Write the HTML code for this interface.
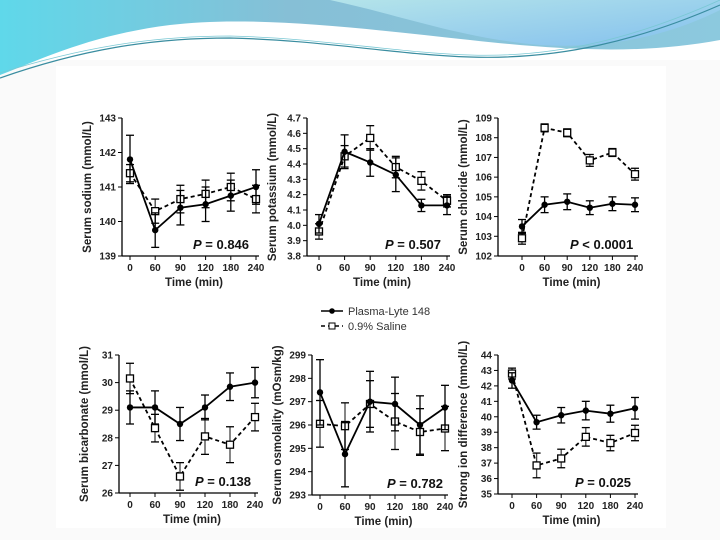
<!DOCTYPE html>
<html><head><meta charset="utf-8"><style>
body{margin:0;width:720px;height:540px;overflow:hidden;background:#fff;font-family:"Liberation Sans",sans-serif}
svg{display:block}
</style></head><body>
<svg id="s" width="720" height="540" viewBox="0 0 720 540">
<defs>
<linearGradient id="g1" x1="0" y1="0" x2="1" y2="0"><stop offset="0" stop-color="#5fd8ea"/><stop offset="0.4" stop-color="#86bfd6"/><stop offset="1" stop-color="#8cc9de"/></linearGradient>
<linearGradient id="g2" x1="0" y1="0" x2="1" y2="1"><stop offset="0" stop-color="#b4e4ea"/><stop offset="1" stop-color="#84c0ee"/></linearGradient>
</defs>
<rect x="0" y="60" width="720" height="480" fill="#fafafa"/>
<g>
<path d="M0 0 H720 V40 C640 55 560 50 470 40 C360 28 250 15 170 25 C90 35 40 60 0 75 Z" fill="url(#g1)"/>
<path d="M330 0 H720 V10 C680 30 620 50 540 45 C460 38 400 15 330 0 Z" fill="url(#g2)"/>
<path d="M0 78 C80 50 150 38 230 38 C320 40 400 55 470 57 C560 60 640 40 720 5" fill="none" stroke="#3a8da0" stroke-width="1.2"/>
<path d="M0 73 C80 48 150 36 230 36 C320 38 400 53 470 55 C560 58 640 36 720 0" fill="none" stroke="#7ac8d4" stroke-width="0.8"/>
</g>
<rect x="56" y="66" width="610" height="462" fill="#fff"/>
<g id="charts"></g>
<g font-size="11" fill="#333">
<line x1="321" y1="311" x2="343" y2="311" stroke="#000" stroke-width="1.5"/><circle cx="332" cy="311" r="2.8" fill="#000"/>
<text x="348" y="315">Plasma-Lyte 148</text>
<line x1="321" y1="326" x2="343" y2="326" stroke="#000" stroke-width="1.5" stroke-dasharray="4,3"/><rect x="329" y="323" width="6" height="6" fill="#fff" stroke="#000"/>
<text x="348" y="330">0.9% Saline</text>
</g>
</svg>
<script>
const categories=["0","60","90","120","180","240"];
const naPL=[141.8,139.75,140.4,140.5,140.75,141.0], naPLe=[0.7,0.5,0.5,0.5,0.45,0.5];
const naSA=[141.4,140.3,140.65,140.8,141.0,140.65], naSAe=[0.25,0.35,0.4,0.4,0.4,0.4];
const kPL=[4.01,4.48,4.41,4.33,4.13,4.13], kPLe=[0.06,0.11,0.09,0.11,0.04,0.06];
const kSA=[3.96,4.45,4.57,4.38,4.29,4.16], kSAe=[0.05,0.07,0.08,0.07,0.06,0.04];
const clPL=[103.5,104.6,104.75,104.45,104.65,104.6], clPLe=[0.35,0.4,0.4,0.35,0.35,0.35];
const clSA=[102.9,108.5,108.25,106.85,107.25,106.15], clSAe=[0.3,0.2,0.2,0.3,0.2,0.3];
const hcPL=[29.1,29.1,28.5,29.1,29.85,30.0], hcPLe=[0.6,0.6,0.6,0.45,0.5,0.55];
const hcSA=[30.15,28.35,26.6,28.05,27.75,28.75], hcSAe=[0.55,0.5,0.5,0.65,0.65,0.5];
const osPL=[297.4,294.75,297.0,296.9,296.0,296.75], osPLe=[1.4,1.4,1.3,1.15,1.25,0.95];
const osSA=[296.05,295.95,296.9,296.15,295.7,295.85], osSAe=[1.0,1.0,1.0,1.2,1.0,0.95];
const sidPL=[42.35,39.65,40.1,40.4,40.2,40.55], sidPLe=[0.5,0.45,0.5,0.6,0.55,0.7];
const sidSA=[42.8,36.85,37.3,38.7,38.3,38.95], sidSAe=[0.35,0.8,0.6,0.6,0.5,0.5];
const naTicks=[139,140,141,142,143], kTicks=[3.8,3.9,4.0,4.1,4.2,4.3,4.4,4.5,4.6,4.7];
const clTicks=[102,103,104,105,106,107,108,109], hcTicks=[26,27,28,29,30,31];
const osTicks=[293,294,295,296,297,298,299], sidTicks=[35,36,37,38,39,40,41,42,43,44];
const panels=[
 {name:"sodium",ax:122,x0:130,x1:256,top:118,bot:256,min:139,max:143,ticks:naTicks,dec:0,label:"Serum sodium (mmol/L)",p:" = 0.846",pl:naPL,ple:naPLe,sa:naSA,sae:naSAe,px:193},
 {name:"potassium",ax:307,x0:319,x1:447,top:118,bot:256,min:3.8,max:4.7,ticks:kTicks,dec:1,label:"Serum potassium (mmol/L)",p:" = 0.507",pl:kPL,ple:kPLe,sa:kSA,sae:kSAe,px:385},
 {name:"chloride",ax:498,x0:522,x1:635,top:118,bot:256,min:102,max:109,ticks:clTicks,dec:0,label:"Serum chloride (mmol/L)",p:" < 0.0001",pl:clPL,ple:clPLe,sa:clSA,sae:clSAe,px:570},
 {name:"bicarbonate",ax:119,x0:130,x1:255,top:355,bot:493,min:26,max:31,ticks:hcTicks,dec:0,label:"Serum bicarbonate (mmol/L)",p:" = 0.138",pl:hcPL,ple:hcPLe,sa:hcSA,sae:hcSAe,px:195},
 {name:"osmolality",ax:312,x0:320,x1:445,top:355,bot:495,min:293,max:299,ticks:osTicks,dec:0,label:"Serum osmolality (mOsm/kg)",p:" = 0.782",pl:osPL,ple:osPLe,sa:osSA,sae:osSAe,px:387},
 {name:"strong-ion-difference",ax:498,x0:512,x1:635,top:355,bot:494,min:35,max:44,ticks:sidTicks,dec:0,label:"Strong ion difference (mmol/L)",p:" = 0.025",pl:sidPL,ple:sidPLe,sa:sidSA,sae:sidSAe,px:575}
];
const NS="http://www.w3.org/2000/svg";
const root=document.getElementById("charts");
function mk(t,a,parent){const e=document.createElementNS(NS,t);for(const k in a)e.setAttribute(k,a[k]);parent.appendChild(e);return e;}
panels.forEach(P=>{
 const g=mk("g",{},root);
 
 
 const y=v=>P.bot-(v-P.min)/(P.max-P.min)*(P.bot-P.top);
 const x=i=>P.x0+i*(P.x1-P.x0)/(categories.length-1);
 const ya=mk("line",{x1:P.ax,y1:P.top,x2:P.ax,y2:P.bot,stroke:"#000","stroke-width":1.3},g);
 
 
 const xa=mk("line",{x1:P.ax,y1:P.bot,x2:P.x1+3,y2:P.bot,stroke:"#000","stroke-width":1.3},g);
 
 
 P.ticks.forEach(t=>{
  mk("line",{x1:P.ax-4,y1:y(t),x2:P.ax,y2:y(t),stroke:"#000","stroke-width":1},g);
  const tx=mk("text",{x:P.ax-6,y:y(t)+3.5,"font-size":10,"font-weight":"bold","text-anchor":"end",fill:"#222"},g);
  tx.textContent=t.toFixed(P.dec);
  
  
 });
 categories.forEach((c,i)=>{
  mk("line",{x1:x(i),y1:P.bot,x2:x(i),y2:P.bot+4,stroke:"#000","stroke-width":1},g);
  const tx=mk("text",{x:x(i),y:P.bot+15,"font-size":10,"font-weight":"bold","text-anchor":"middle",fill:"#222"},g);
  tx.textContent=c;
  
  
 });
 const xt=mk("text",{x:(P.ax+P.x1)/2+5,y:P.bot+30,"font-size":11.5,"font-weight":"bold","text-anchor":"middle",fill:"#222"},g);
 xt.textContent="Time (min)";
 
 
 const cy=(P.top+P.bot)/2;
 const yt=mk("text",{x:0,y:0,"font-size":11.5,"font-weight":"bold","text-anchor":"middle",fill:"#222",transform:`translate(${P.ax-31},${cy}) rotate(-90)`},g);
 yt.textContent=P.label;
 
 
 const pt=mk("text",{x:P.px,y:P.bot-7,"font-size":13,"font-weight":"bold",fill:"#111"},g);
 const it=mk("tspan",{"font-style":"italic"},pt); it.textContent="P";
 const rest=mk("tspan",{},pt); rest.textContent=P.p;
 
 
 [[P.sa,P.sae,true],[P.pl,P.ple,false]].forEach(([vals,errs,dash])=>{
  const sg=mk("g",{},g);
  
  
  vals.forEach((v,i)=>{
   const a=y(v+errs[i]),b=y(v-errs[i]);
   mk("line",{x1:x(i),y1:a,x2:x(i),y2:b,stroke:dash?"#444":"#000","stroke-width":1.3},sg);
   mk("line",{x1:x(i)-4,y1:a,x2:x(i)+4,y2:a,stroke:"#000","stroke-width":1.3},sg);
   mk("line",{x1:x(i)-4,y1:b,x2:x(i)+4,y2:b,stroke:"#000","stroke-width":1.3},sg);
  });
  const d=vals.map((v,i)=>(i?"L":"M")+x(i)+" "+y(v)).join(" ");
  const ln=mk("path",{d:d,fill:"none",stroke:"#000","stroke-width":1.8,"stroke-dasharray":dash?"4,3":"none"},sg);
  
  
  vals.forEach((v,i)=>{
   let m;
   if(dash) m=mk("rect",{x:x(i)-3.5,y:y(v)-3.5,width:7,height:7,fill:"#fff",stroke:"#000","stroke-width":1.3},sg);
   else m=mk("circle",{cx:x(i),cy:y(v),r:3.2,fill:"#000"},sg);
   
   
  });
 });
});
</script>
</body></html>
